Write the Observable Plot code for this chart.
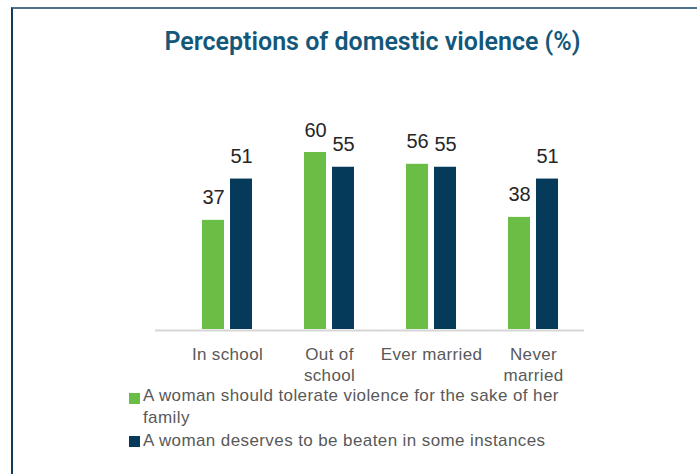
<!DOCTYPE html>
<html>
<head>
<meta charset="utf-8">
<script src="https://cdn.jsdelivr.net/npm/d3@7"></script>
<script src="https://cdn.jsdelivr.net/npm/@observablehq/plot@0.6"></script>
<style>
  body { margin: 0; background: #fff; }
  #wrap { position: relative; width: 697px; height: 474px; overflow: hidden; background: #fff; font-family: "Liberation Sans", Arial, sans-serif; }
  #border { position: absolute; left: 11px; top: 7px; right: -4px; bottom: -4px; border-top: 2px solid #4b7390; border-left: 2px solid #123c5a; }
  #title { position: absolute; left: 0; top: 27px; width: 745px; text-align: center; font-family: Roboto, "Liberation Sans", sans-serif; font-weight: 600; font-size: 25px; line-height: 30px; color: #13587a; white-space: nowrap; }
  #chart { position: absolute; left: 0; top: 0; }
  .leg { position: absolute; font-size: 17px; line-height: 21.6px; color: #595959; letter-spacing: 0.4px; }
  .sw { position: absolute; width: 11px; height: 11px; }
  g[aria-label="fx-axis tick label"] text { letter-spacing: 0.35px; }
</style>
</head>
<body>
<div id="wrap">
  <div id="border"></div>
  <div id="title"></div>
  <div id="chart"></div>
  <div id="legend"></div>
</div>
<script>
const titleText = "Perceptions of domestic violence (%)";
const categories = ["In school", "Out of school", "Ever married", "Never married"];
const categoryLabels = ["In school", "Out of\nschool", "Ever married", "Never\nmarried"];
const seriesNames = [
  "A woman should tolerate violence for the sake of her family",
  "A woman deserves to be beaten in some instances"
];
const seriesColors = ["#6abd45", "#053a5a"];
const tolerateValues = [37, 60, 56, 38];
const deservesValues = [51, 55, 55, 51];

const data = [];
categories.forEach((c, i) => {
  data.push({category: c, series: seriesNames[0], value: tolerateValues[i]});
  data.push({category: c, series: seriesNames[1], value: deservesValues[i]});
});

document.getElementById("title").textContent = titleText;

const labelMap = new Map(categories.map((c, i) => [c, categoryLabels[i]]));
const baseFirst = categories.slice(0, 1).map(c => ({category: c}));
const baseRest = categories.slice(1).map(c => ({category: c}));
const ruleStyle = {fx: "category", y: () => 0, stroke: "#d6d6d6", strokeWidth: 2, dy: 1, insetRight: -21.17};

const plot = Plot.plot({
  width: 697,
  height: 400,
  marginLeft: 155,
  marginRight: 113,
  marginTop: 152,
  marginBottom: 71,
  style: {background: "transparent", overflow: "visible"},
  fx: {domain: categories, paddingInner: 0.4137, paddingOuter: 0.303, align: 0.669, label: null},
  x: {domain: seriesNames, paddingInner: 0.207, paddingOuter: 0.138, axis: null},
  y: {domain: [0, 60], axis: null},
  color: {domain: seriesNames, range: seriesColors},
  marks: [
    Plot.ruleY(baseFirst, {...ruleStyle, insetLeft: -42}),
    Plot.ruleY(baseRest, {...ruleStyle, insetLeft: -21.17}),
    Plot.barY(data, {fx: "category", x: "series", y: "value", fill: "series"}),
    Plot.text(data, {
      fx: "category", x: "series", y: "value", text: d => String(d.value),
      lineAnchor: "bottom", dy: -16, fontSize: 20,
      fontFamily: "'Liberation Sans', Arial, sans-serif",
      fill: "#262626", ariaLabel: "value-labels"
    }),
    Plot.axisFx({
      anchor: "bottom", tickSize: 0, tickPadding: 16, fontSize: 17, lineHeight: 1.23,
      fontFamily: "'Liberation Sans', Arial, sans-serif", fill: "#595959",
      tickFormat: c => labelMap.get(c), label: null
    })
  ]
});
document.getElementById("chart").appendChild(plot);

// condense the value labels (narrow-font look)
d3.select(plot).selectAll('g[aria-label="value-labels"] text').each(function() {
  const w = this.getComputedTextLength();
  this.setAttribute("textLength", (w * 0.87).toFixed(2));
  this.setAttribute("lengthAdjust", "spacingAndGlyphs");
});

// legend built from the series arrays
const legend = document.getElementById("legend");
const legendTops = [385.3, 429.6];
const swatchTops = [392.5, 436];
seriesNames.forEach((name, i) => {
  const sw = document.createElement("div");
  sw.className = "sw";
  sw.style.left = "129px";
  sw.style.top = swatchTops[i] + "px";
  sw.style.background = seriesColors[i];
  legend.appendChild(sw);
  const t = document.createElement("div");
  t.className = "leg";
  t.style.left = "143px";
  t.style.top = legendTops[i] + "px";
  t.style.width = "440px";
  t.textContent = name;
  legend.appendChild(t);
});
</script>
</body>
</html>
